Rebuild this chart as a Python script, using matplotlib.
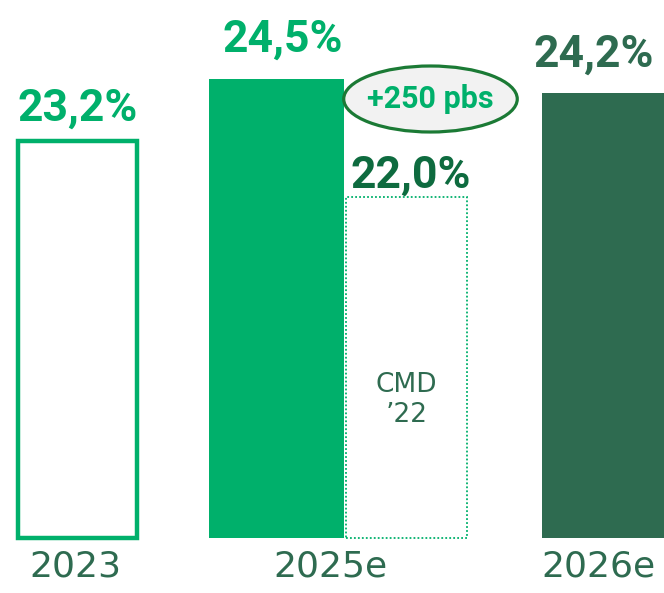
import matplotlib.pyplot as plt
from matplotlib.patches import Ellipse
import numpy as np

# Data
categories = ['2023', '2025e', '2026e']
values = [23.2, 24.5, 24.2]
target_cmd = 22.0
target_label = 'CMD\n\u201922'
delta_label = '+250 pbs'

# Colours
green = '#00B06B'
dark = '#2E6B50'
dark_label = '#0E6B3F'
ring = '#1B7A35'

plt.rcParams['font.family'] = ['DejaVu Sans']
bold_font = ['Roboto', 'DejaVu Sans']

base = 14.794     # value at the baseline of the bars
k = 47.27         # pixels per percentage point

fig = plt.figure(figsize=(6.64, 5.93), dpi=100)
ax = fig.add_axes([0, 55 / 593, 1, 538 / 593])
ax.set_xlim(-0.295, 2.23)
ax.set_ylim(base, base + 538 / k)
for s in ax.spines.values():
    s.set_visible(False)
ax.set_yticks([])

# 2023: outlined bar
ax.bar(0, values[0] - base, bottom=base, width=0.455, facecolor='white',
       edgecolor=green, linewidth=3.2, clip_on=False)
# 2025e: filled bar and CMD'22 target (dotted)
ax.bar(0.755, values[1] - base, bottom=base, width=0.513, color=green)
ax.bar(1.25, target_cmd - base, bottom=base, width=0.46, facecolor='white',
       edgecolor=green, linewidth=1.3, linestyle=(0, (1, 1.2)), clip_on=False)
# 2026e: dark bar
ax.bar(2.0, values[2] - base, bottom=base, width=0.47, color=dark)

# value labels
lab_kw = dict(ha='center', va='baseline', fontsize=32, fontweight='bold',
              family=bold_font, textcoords='offset pixels',
              annotation_clip=False)
ax.annotate('23,2%', (0, values[0]), xytext=(0, 20), color=green, **lab_kw)
ax.annotate('24,5%', (0.755, values[1]), xytext=(7, 28), color=green, **lab_kw)
ax.annotate('22,0%', (1.25, target_cmd), xytext=(4, 10), color=dark_label, **lab_kw)
ax.annotate('24,2%', (2.0, values[2]), xytext=(-10, 27), color=dark, **lab_kw)

# CMD'22 note inside target bar
ax.text(1.25, base + 138 / k, target_label, ha='center', va='center',
        fontsize=19, color=dark, linespacing=1.2)

# +250 pbs bubble
ex, ey = 1.342, base + 439 / k
ax.add_patch(Ellipse((ex, ey), 0.66, 66 / k, facecolor='#F2F2F2',
                     edgecolor=ring, linewidth=2.3, zorder=3))
ax.text(ex, ey, delta_label, ha='center', va='center', fontsize=22,
        fontweight='bold', family=bold_font, color=green, zorder=4)

# category labels
ax.set_xticks([-0.01, 0.96, 1.98], categories)
ax.tick_params(axis='x', length=0, pad=8.5, labelsize=26, labelcolor=dark)

fig.savefig('out.png', dpi=100)
